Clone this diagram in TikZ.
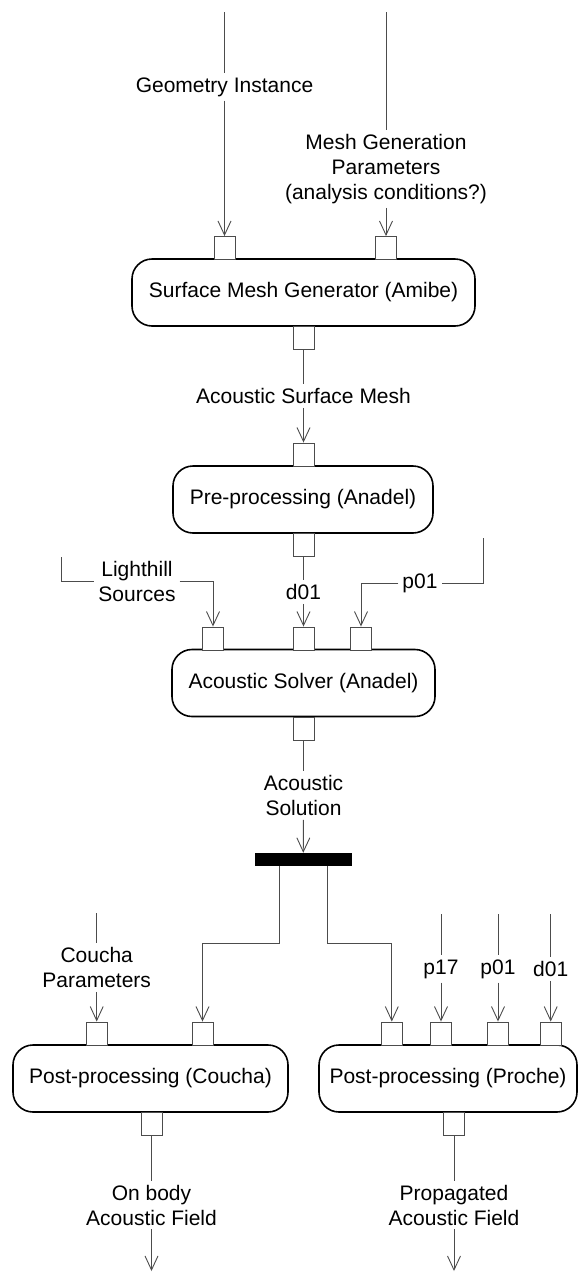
\documentclass[tikz,border=0pt]{standalone}
\usepackage{fontspec}
\setmainfont{Liberation Sans}
\usetikzlibrary{arrows.meta}
\tikzset{
  act/.style={rectangle, rounded corners=20pt, draw=black, line width=1.6pt,
              fill=white, minimum height=67pt, inner sep=0pt,
              font=\fontsize{21}{25}\selectfont},
  port/.style={rectangle, draw=black!70, line width=0.9pt, fill=white,
               minimum width=21pt, minimum height=23pt, inner sep=0pt},
  forkbar/.style={rectangle, fill=black, minimum width=97pt,
                  minimum height=13pt, inner sep=0pt},
  lbl/.style={align=center, inner sep=4pt, font=\fontsize{21}{25}\selectfont},
  flow/.style={line width=0.9pt, draw=black!70},
  arr/.style={flow, -{Straight Barb[length=14pt,width=13pt]}},
}

\begin{document}
\begin{tikzpicture}[x=1pt, y=-1pt]
  \useasboundingbox (0,0) rectangle (578,1272);

  % -- Activities ---------------------------------------------------------------
  \node[act, minimum width=343pt] at (303.5, 292.5) (mesher)
      {Surface Mesh Generator (Amibe)};
  \node[act, minimum width=260pt] at (303.0, 499.5) (prepro)
      {Pre-processing (Anadel)};
  \node[act, minimum width=263pt] at (303.5, 683.0) (solver)
      {Acoustic Solver (Anadel)};
  \node[act, minimum width=275pt] at (150.5,1078.5) (coucha)
      {Post-processing (Coucha)};
  \node[act, minimum width=258pt] at (448.0,1078.5) (proche)
      {Post-processing (Proche)};
  \node[forkbar] at (303.25, 859.5) (fork) {};

  % -- Pins ---------------------------------------------------------------------
  \node[port] at (224.5, 248.0) (geoin) {};
  \node[port] at (386.0, 248.0) (parin) {};
  \node[port] at (303.5, 337.5) (meshout) {};
  \node[port] at (303.5, 454.5) (meshin) {};
  \node[port] at (303.5, 544.5) (preout) {};
  \node[port] at (213.0, 638.5) (lhin) {};
  \node[port] at (303.5, 638.5) (dzin) {};
  \node[port] at (361.0, 638.5) (pzin) {};
  \node[port] at (303.5, 728.5) (solout) {};
  \node[port] at ( 96.7,1033.5) (cparin) {};
  \node[port] at (202.5,1033.5) (csolin) {};
  \node[port] at (151.5,1123.5) (cout) {};
  \node[port] at (391.8,1033.5) (psolin) {};
  \node[port] at (441.0,1033.5) (pseven) {};
  \node[port] at (498.0,1033.5) (pzero) {};
  \node[port] at (550.7,1033.5) (pdzero) {};
  \node[port] at (454.0,1123.5) (pout) {};

  % -- Flow labels --------------------------------------------------------------
  \node[lbl] at (224.5,  87.0) (geolbl) {Geometry Instance};
  \node[lbl] at (386.0, 169.0) (parlbl)
      {Mesh Generation\\Parameters\\(analysis conditions?)};
  \node[lbl] at (303.5, 396.0) (meshlbl) {Acoustic Surface Mesh};
  \node[lbl] at (137.0, 581.5) (lhlbl) {Lighthill\\Sources};
  \node[lbl] at (303.5, 592.0) (dzlbl) {d01};
  \node[lbl] at (420.0, 583.0) (pzlbl) {p01};
  \node[lbl] at (303.5, 795.5) (sollbl) {Acoustic\\Solution};
  \node[lbl] at ( 96.7, 967.5) (cparlbl) {Coucha\\Parameters};
  \node[lbl] at (441.0, 969.0) (psevlbl) {p17};
  \node[lbl] at (498.0, 969.0) (pzlbl2) {p01};
  \node[lbl] at (550.7, 969.0) (pdzlbl) {d01};
  \node[lbl] at (151.5,1205.0) (onbody) {On body\\Acoustic Field};
  \node[lbl] at (454.0,1205.0) (propag) {Propagated\\Acoustic Field};

  % -- Free ends ----------------------------------------------------------------
  \coordinate (geotop)  at (224.5,  12);
  \coordinate (partop)  at (386.0,  12);
  \coordinate (lhtop)   at ( 61.0, 557);
  \coordinate (pztop)   at (483.0, 538);
  \coordinate (cpartop) at ( 96.7, 913);
  \coordinate (psevtop) at (441.0, 914);
  \coordinate (pzerotop) at (498.0, 914);
  \coordinate (pdztop)  at (550.7, 914);
  \coordinate (forkl)   at (279.0, 943);
  \coordinate (forkr)   at (327.5, 943);
  \coordinate (onend)   at (151.5,1271);
  \coordinate (prend)   at (454.0,1271);

  % -- Connectors ---------------------------------------------------------------
  \draw[flow] (geotop) -- (geolbl);
  \draw[arr]  (geolbl) -- (geoin);
  \draw[flow] (partop) -- (parlbl);
  \draw[arr]  (parlbl) -- (parin);
  \draw[flow] (meshout) -- (meshlbl);
  \draw[arr]  (meshlbl) -- (meshin);
  \draw[flow] (preout) -- (dzlbl);
  \draw[arr]  (dzlbl) -- (dzin);
  \draw[flow] (lhtop) |- (lhlbl.west);
  \draw[arr]  (lhlbl.east) -| (lhin);
  \draw[flow] (pztop) |- (pzlbl.east);
  \draw[arr]  (pzlbl.west) -| (pzin);
  \draw[flow] (solout) -- (sollbl);
  \draw[arr]  (sollbl) -- (fork);
  \draw[arr]  (forkl |- fork.south) -- (forkl) -| (csolin);
  \draw[arr]  (forkr |- fork.south) -- (forkr) -| (psolin);
  \draw[flow] (cpartop) -- (cparlbl);
  \draw[arr]  (cparlbl) -- (cparin);
  \draw[flow] (psevtop) -- (psevlbl);
  \draw[arr]  (psevlbl) -- (pseven);
  \draw[flow] (pzerotop) -- (pzlbl2);
  \draw[arr]  (pzlbl2) -- (pzero);
  \draw[flow] (pdztop) -- (pdzlbl);
  \draw[arr]  (pdzlbl) -- (pdzero);
  \draw[flow] (cout) -- (onbody);
  \draw[arr]  (onbody) -- (onend);
  \draw[flow] (pout) -- (propag);
  \draw[arr]  (propag) -- (prend);
\end{tikzpicture}
\end{document}
